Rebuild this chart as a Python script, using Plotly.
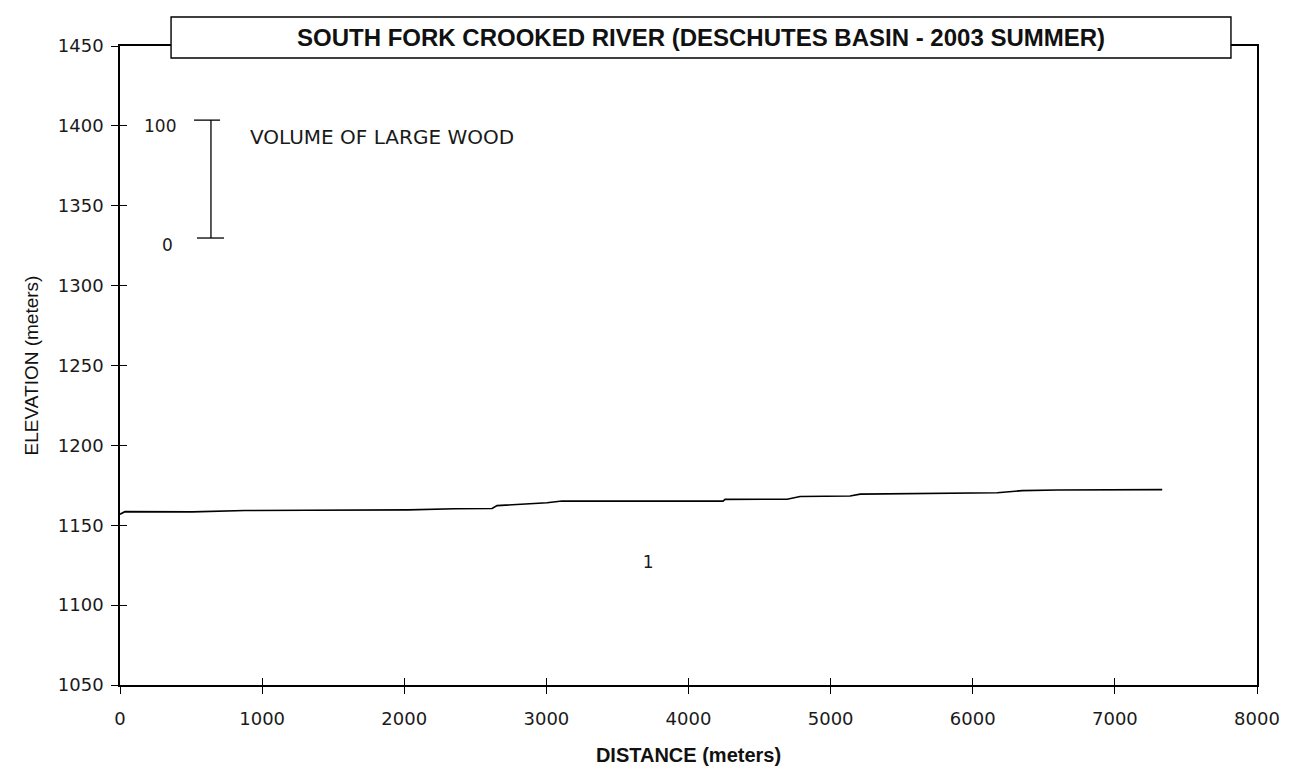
import plotly.graph_objects as go

# Longitudinal profile (distance along stream vs elevation)
distance = [0, 35, 507, 880, 1316, 2027, 2357, 2463, 2618, 2653, 2935, 3005, 3110,
            4243, 4257, 4694, 4785, 5137, 5208, 6172, 6348, 6594, 7333]
elevation = [1156.9, 1158.5, 1158.4, 1159.2, 1159.4, 1159.6, 1160.3, 1160.5, 1160.5,
             1162.3, 1163.5, 1164.1, 1165.2, 1165.1, 1166.2, 1166.3, 1168.0, 1168.3,
             1169.5, 1170.3, 1171.7, 1172.1, 1172.3]

# Reach label
reach_labels = ["1"]
reach_x = [3716]
reach_y = [1126]

x_ticks = [0, 1000, 2000, 3000, 4000, 5000, 6000, 7000, 8000]
y_ticks = [1050, 1100, 1150, 1200, 1250, 1300, 1350, 1400, 1450]

title_text = "SOUTH FORK CROOKED RIVER (DESCHUTES BASIN - 2003 SUMMER)"
scale_labels = ["100", "0"]
scale_title = "VOLUME OF LARGE WOOD"

TICKFONT = dict(family="DejaVu Sans", size=18, color="#1a1a1a")

fig = go.Figure()
fig.add_trace(go.Scatter(x=distance, y=elevation, mode="lines",
                         line=dict(color="black", width=1.6),
                         hoverinfo="skip", showlegend=False))
# invisible trace to carry inner tick axes
fig.add_trace(go.Scatter(x=[x_ticks[0]], y=[y_ticks[0]], xaxis="x2", yaxis="y2",
                         mode="markers", marker=dict(opacity=0), showlegend=False,
                         hoverinfo="skip"))

fig.add_trace(go.Scatter(x=reach_x, y=reach_y, mode="text", text=reach_labels,
                         textfont=dict(family="DejaVu Sans", size=17, color="#1a1a1a"),
                         showlegend=False, hoverinfo="skip"))

axis_common = dict(showgrid=False, zeroline=False, showline=True, linecolor="black",
                   linewidth=1.6, tickcolor="black", tickwidth=1.4, ticklen=7)

fig.update_layout(
    width=1307, height=782,
    paper_bgcolor="white", plot_bgcolor="white",
    margin=dict(l=120, r=50, t=46, b=97),
    xaxis=dict(range=[0, 8000], tickvals=x_ticks, ticks="outside", mirror=True,
               tickfont=TICKFONT, ticklabelstandoff=10,
               title=dict(text="<b>DISTANCE (meters)</b>",
                          font=dict(family="Liberation Sans", size=20, color="#111"),
                          standoff=20),
               **axis_common),
    yaxis=dict(range=[1050, 1450], tickvals=y_ticks, ticks="outside", mirror=True,
               tickfont=TICKFONT, ticklabelstandoff=4,
               title=dict(text="ELEVATION (meters)",
                          font=dict(family="Liberation Sans", size=19, color="#111"),
                          standoff=14),
               **axis_common),
    xaxis2=dict(range=[0, 8000], tickvals=x_ticks, ticks="inside", overlaying="x",
                anchor="y2", side="bottom", showticklabels=False, showgrid=False,
                zeroline=False, showline=False, tickcolor="black", tickwidth=1.4, ticklen=7),
    yaxis2=dict(range=[1050, 1450], tickvals=y_ticks, ticks="inside", overlaying="y",
                anchor="x2", side="left", showticklabels=False, showgrid=False,
                zeroline=False, showline=False, tickcolor="black", tickwidth=1.4, ticklen=7),
    showlegend=False,
)

# Title box
fig.add_shape(type="rect", xref="paper", yref="paper", x0=0.0449, x1=0.9771,
              y0=0.9812, y1=1.0454, fillcolor="white",
              line=dict(color="black", width=1.4), layer="above")
fig.add_annotation(xref="paper", yref="paper", x=0.5114, y=1.0133, text="<b>" + title_text + "</b>",
                   showarrow=False, xanchor="center", yanchor="middle",
                   font=dict(family="Liberation Sans", size=24, color="#111"))

# Volume of large wood scale bar
fig.add_shape(type="line", xref="paper", yref="paper", x0=0.080, x1=0.080, y0=0.6995, y1=0.884,
              line=dict(color="black", width=1.3))
fig.add_shape(type="line", xref="paper", yref="paper", x0=0.0651, x1=0.0880, y0=0.884, y1=0.884,
              line=dict(color="black", width=1.3))
fig.add_shape(type="line", xref="paper", yref="paper", x0=0.0677, x1=0.0915, y0=0.6995, y1=0.6995,
              line=dict(color="black", width=1.3))
fig.add_annotation(xref="paper", yref="paper", x=0.0352, y=0.875, text=scale_labels[0],
                   showarrow=False, xanchor="center", yanchor="middle",
                   font=dict(family="DejaVu Sans", size=17, color="#1a1a1a"))
fig.add_annotation(xref="paper", yref="paper", x=0.0422, y=0.6886, text=scale_labels[1],
                   showarrow=False, xanchor="center", yanchor="middle",
                   font=dict(family="DejaVu Sans", size=17, color="#1a1a1a"))
fig.add_annotation(xref="paper", yref="paper", x=0.1126, y=0.8576, text=scale_title,
                   showarrow=False, xanchor="left", yanchor="middle",
                   font=dict(family="DejaVu Sans", size=20, color="#1a1a1a"))

fig.write_html("out.html")
